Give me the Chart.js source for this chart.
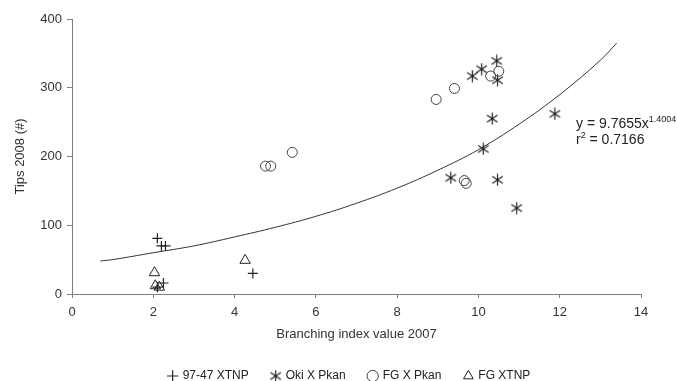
<!DOCTYPE html>
<html>
<head>
<meta charset="utf-8">
<script src="https://cdn.jsdelivr.net/npm/chart.js@4.4.1/dist/chart.umd.min.js"></script>
<style>
    html, body { margin: 0; padding: 0; background: #ffffff; overflow: hidden; }
    #wrap { width: 677px; height: 381px; }
</style>
</head>
<body>
<div id="wrap"><canvas id="tipsChart" width="677" height="381"></canvas></div>
<script>
// Values
var xtnp9747X = [2.1, 2.2, 2.3, 2.25, 2.1, 4.45];
var xtnp9747Y = [81, 70, 70, 16, 10, 30];

var okiPkanX = [10.45, 10.08, 9.85, 10.47, 10.34, 10.12, 11.88, 9.32, 10.47, 10.94];
var okiPkanY = [339, 327, 317, 311, 255, 211, 262, 169, 166, 125];

var fgPkanX = [8.96, 9.41, 10.30, 10.50, 9.65, 9.70, 5.42, 4.76, 4.89];
var fgPkanY = [283, 299, 317, 324, 165, 161, 206, 186, 186];

var fgXtnpX = [2.03, 4.26, 2.05, 2.15];
var fgXtnpY = [31, 49, 12, 10];

// trend curve as drawn in the picture
var trendX = [0.7, 1, 2, 3, 4, 5, 6, 7, 8, 9, 10, 11, 12, 13, 13.4];
var trendY = [48, 50, 60, 70, 83, 97, 113, 132, 154, 180, 210, 247, 290, 340, 365];

var seriesNames = ['97-47 XTNP', 'Oki X Pkan', 'FG X Pkan', 'FG XTNP'];
var xTicks = [0, 2, 4, 6, 8, 10, 12, 14];
var yTicks = [0, 100, 200, 300, 400];

var markColor = '#222222';
var axisColor = '#7f7f7f';
var textColor = '#333333';
var fontFamily = '"Liberation Sans", Arial, sans-serif';

function toPoints(xs, ys) {
    var pts = [];
    for (var i = 0; i < xs.length; i++) {
        pts.push({ x: xs[i], y: ys[i] });
    }
    return pts;
}

// six-armed star marker (vertical bar plus an X)
function makeStar(size) {
    var c = document.createElement('canvas');
    c.width = size; c.height = size;
    var g = c.getContext('2d');
    var m = size / 2, r = size / 2 - 0.5;
    g.strokeStyle = markColor;
    g.lineWidth = 1.2;
    g.beginPath();
    g.moveTo(m, m - r); g.lineTo(m, m + r);
    g.moveTo(m - r * 0.87, m - r * 0.6); g.lineTo(m + r * 0.87, m + r * 0.6);
    g.moveTo(m + r * 0.87, m - r * 0.6); g.lineTo(m - r * 0.87, m + r * 0.6);
    g.stroke();
    return c;
}
var starMark = makeStar(13);

// equation text next to the curve
var trendLabel = {
    id: 'trendLabel',
    afterDraw: function(chart) {
        var ctx = chart.ctx;
        var big = '14px ' + fontFamily, small = '9px ' + fontFamily;
        ctx.save();
        ctx.fillStyle = '#222222';
        ctx.textBaseline = 'alphabetic';
        ctx.font = big;
        var t1 = 'y = 9.7655x';
        ctx.fillText(t1, 576, 128);
        var w1 = ctx.measureText(t1).width;
        ctx.font = small;
        ctx.fillText('1.4004', 576 + w1, 122);
        ctx.font = big;
        ctx.fillText('r', 576, 144);
        var w2 = ctx.measureText('r').width;
        ctx.font = small;
        ctx.fillText('2', 576 + w2, 138);
        var w3 = ctx.measureText('2').width;
        ctx.font = big;
        ctx.fillText(' = 0.7166', 576 + w2 + w3, 144);
        ctx.restore();
    }
};

// nudge the legend row to where it sits in the picture
var legendShift = {
    id: 'legendShift',
    afterLayout: function(chart) {
        var lg = chart.legend;
        lg.left += 29; lg.right += 29;
        lg.top += 11; lg.bottom += 11;
    }
};

var ctx = document.getElementById('tipsChart').getContext('2d');
var tipsChart = new Chart(ctx, {
    type: 'scatter',
    data: {
        datasets: [{
            label: seriesNames[0],
            data: toPoints(xtnp9747X, xtnp9747Y),
            pointStyle: 'cross',
            pointRadius: 5,
            borderColor: markColor,
            backgroundColor: markColor,
            borderWidth: 1.2
        }, {
            label: seriesNames[1],
            data: toPoints(okiPkanX, okiPkanY),
            pointStyle: starMark,
            pointRadius: 6,
            borderColor: markColor,
            backgroundColor: markColor,
            borderWidth: 1.2
        }, {
            label: seriesNames[2],
            data: toPoints(fgPkanX, fgPkanY),
            pointStyle: 'circle',
            pointRadius: 5,
            borderColor: '#444444',
            backgroundColor: 'rgba(255,255,255,0)',
            borderWidth: 1
        }, {
            label: seriesNames[3],
            data: toPoints(fgXtnpX, fgXtnpY),
            pointStyle: 'triangle',
            pointRadius: 6,
            borderColor: markColor,
            backgroundColor: 'rgba(255,255,255,0)',
            borderWidth: 1
        }, {
            label: 'trend',
            type: 'line',
            data: toPoints(trendX, trendY),
            showLine: true,
            pointRadius: 0,
            borderColor: '#333333',
            borderWidth: 1,
            tension: 0.4,
            fill: false
        }]
    },
    options: {
        responsive: false,
        animation: false,
        layout: {
            padding: { left: 0, right: 36, top: 19, bottom: 0 }
        },
        scales: {
            x: {
                type: 'linear',
                min: 0,
                max: 14,
                afterBuildTicks: function(scale) {
                    scale.ticks = xTicks.map(function(v) { return { value: v }; });
                },
                afterFit: function(scale) { scale.height = 42; },
                border: { color: axisColor, width: 1 },
                grid: { display: true, drawOnChartArea: false, drawTicks: true, tickLength: 4, color: axisColor },
                ticks: {
                    color: textColor,
                    padding: 7,
                    font: { size: 13, family: fontFamily }
                },
                title: {
                    display: true,
                    text: 'Branching index value 2007',
                    color: textColor,
                    padding: { top: 2, bottom: -6 },
                    font: { size: 13, family: fontFamily }
                }
            },
            y: {
                min: 0,
                max: 400,
                afterBuildTicks: function(scale) {
                    scale.ticks = yTicks.map(function(v) { return { value: v }; });
                },
                afterFit: function(scale) { scale.width = 72; },
                border: { color: axisColor, width: 1 },
                grid: { display: true, drawOnChartArea: false, drawTicks: true, tickLength: 5, color: axisColor },
                ticks: {
                    color: textColor,
                    padding: 5,
                    font: { size: 13, family: fontFamily }
                },
                title: {
                    display: true,
                    text: 'Tips 2008 (#)',
                    color: textColor,
                    padding: { top: 13, bottom: 4 },
                    font: { size: 13, family: fontFamily }
                }
            }
        },
        plugins: {
            legend: {
                position: 'bottom',
                labels: {
                    color: '#222222',
                    usePointStyle: true,
                    boxWidth: 8,
                    boxHeight: 8,
                    padding: 23,
                    font: { size: 12, family: fontFamily },
                    filter: function(item) { return item.text !== 'trend'; }
                }
            },
            tooltip: { enabled: false }
        }
    },
    plugins: [trendLabel, legendShift]
});
</script>
</body>
</html>
